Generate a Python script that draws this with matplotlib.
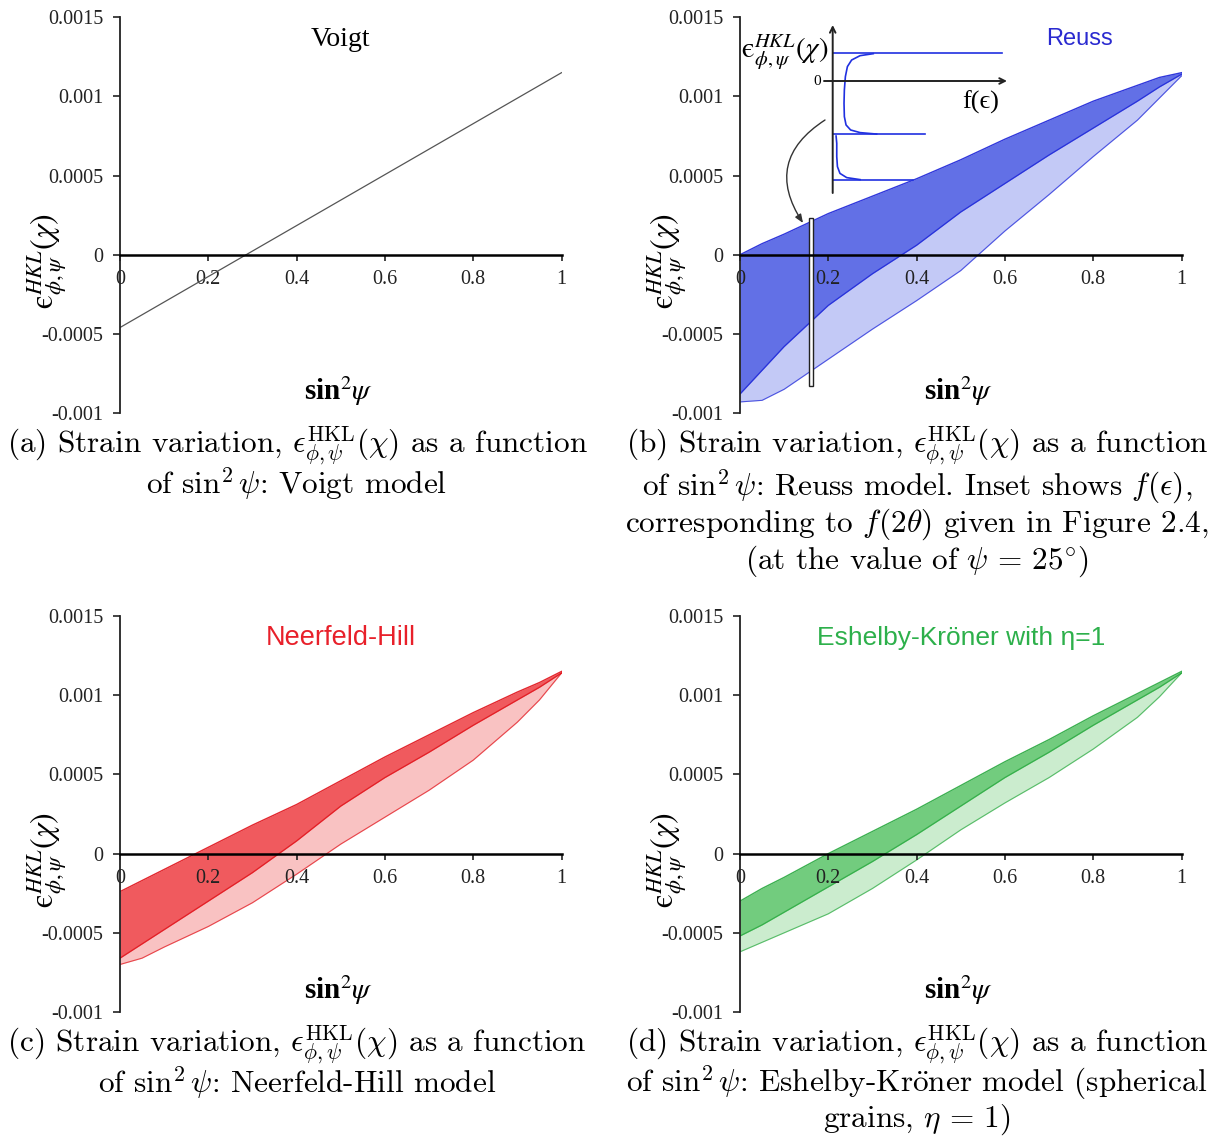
import matplotlib
matplotlib.use("Agg")
import matplotlib.pyplot as plt
from matplotlib.patches import Rectangle

# ---------------- data ----------------
x_ticks = [0, 0.2, 0.4, 0.6, 0.8, 1.0]
x_tick_labels = ["0", "0.2", "0.4", "0.6", "0.8", "1"]
y_ticks = [-0.001, -0.0005, 0, 0.0005, 0.001, 0.0015]
y_tick_labels = ["-0.001", "-0.0005", "0", "0.0005", "0.001", "0.0015"]

# Voigt: single straight line
voigt_x = [0.0, 1.0]
voigt_eps = [-0.00046, 0.00115]

# sin^2(psi) positions at which the point-cloud envelopes were read
cloud_x = [0.0, 0.05, 0.1, 0.2, 0.3, 0.4, 0.5, 0.6, 0.7, 0.8, 0.9, 0.95, 1.0]

reuss_upper = [0.0, 0.00007, 0.00013, 0.00026, 0.00037, 0.00048, 0.00060, 0.00073, 0.00085, 0.00097, 0.00107, 0.00112, 0.00115]
reuss_inner = [-0.00088, -0.00073, -0.00058, -0.00032, -0.00012, 0.00006, 0.00027, 0.00045, 0.00063, 0.00080, 0.00097, 0.00106, 0.00114]
reuss_lower = [-0.00093, -0.00092, -0.00085, -0.00066, -0.00047, -0.00029, -0.00010, 0.00015, 0.00038, 0.00062, 0.00085, 0.00099, 0.00113]

hill_upper = [-0.00024, -0.00017, -0.00010, 0.00004, 0.00018, 0.00031, 0.00046, 0.00061, 0.00075, 0.00089, 0.00102, 0.00108, 0.00115]
hill_inner = [-0.00066, -0.00057, -0.00048, -0.00030, -0.00012, 0.00008, 0.00030, 0.00048, 0.00064, 0.00081, 0.00097, 0.00105, 0.00114]
hill_lower = [-0.00070, -0.00066, -0.00059, -0.00046, -0.00031, -0.00013, 0.00006, 0.00023, 0.00040, 0.00059, 0.00083, 0.00097, 0.00114]

ek_upper = [-0.00030, -0.00022, -0.00015, 0.0, 0.00014, 0.00028, 0.00043, 0.00058, 0.00072, 0.00087, 0.00101, 0.00108, 0.00115]
ek_inner = [-0.00052, -0.00045, -0.00037, -0.00021, -0.00005, 0.00012, 0.00030, 0.00048, 0.00064, 0.00081, 0.00097, 0.00105, 0.00114]
ek_lower = [-0.00062, -0.00056, -0.00050, -0.00038, -0.00022, -0.00004, 0.00015, 0.00032, 0.00048, 0.00066, 0.00086, 0.00099, 0.00114]

# slice marked in the Reuss panel
slice_x0, slice_x1 = 0.156, 0.165
slice_lo, slice_hi = -0.00083, 0.00023

# inset: distribution f(eps) across the slice
inset_eps_top, inset_f_top = 0.00021, 1.0
inset_eps_mid, inset_f_mid = -0.000404, 0.546
inset_eps_bot, inset_f_bot = -0.00075, 0.477
inset_seg1_f = [0.24, 0.162, 0.112, 0.087, 0.075, 0.069, 0.067, 0.069, 0.079, 0.106, 0.162, 0.26]
inset_seg1_eps = [0.000207, 0.000192, 0.000159, 0.000109, 0.000033, -0.000068, -0.000169, -0.00027, -0.000333, -0.000371, -0.000391, -0.000402]
inset_seg2_f = [0.020, 0.024, 0.024, 0.028, 0.043, 0.083, 0.162]
inset_seg2_eps = [-0.000417, -0.000472, -0.000573, -0.000649, -0.000700, -0.000732, -0.000747]

# ---------------- figure ----------------
W, H = 1220, 1138
fig = plt.figure(figsize=(W / 100, H / 100), dpi=100)

SERIF = "Liberation Serif"
SANS = "Liberation Sans"


def axes_px(l, t, r, b):
    return fig.add_axes([l / W, 1 - b / H, (r - l) / W, (b - t) / H])


ylab = "$\\mathrm{\u03f5}^{HKL}_{\\phi,\\psi}(\\chi)$"


def style(ax):
    ax.set_xlim(0, 1)
    ax.set_ylim(-0.001, 0.0015)
    ax.patch.set_alpha(0)
    for s in ("top", "right"):
        ax.spines[s].set_visible(False)
    ax.spines["left"].set_linewidth(1.3)
    ax.spines["left"].set_color("#222222")
    ax.spines["bottom"].set_position(("data", 0))
    ax.spines["bottom"].set_linewidth(1.8)
    ax.spines["bottom"].set_zorder(5)
    ax.set_xticks(x_ticks)
    ax.set_xticklabels(x_tick_labels, fontfamily=SERIF, fontsize=14.5)
    ax.set_yticks(y_ticks)
    ax.set_yticklabels(y_tick_labels, fontfamily=SERIF, fontsize=14.5)
    ax.tick_params(axis="x", direction="out", length=4, width=1.2, pad=7, colors="#222222")
    ax.tick_params(axis="y", direction="out", length=5, width=1.2, pad=7, colors="#222222")
    ax.text(0.495, -0.00086, r"sin$^{2}\psi$", ha="center", va="center",
            fontsize=21, fontfamily=SERIF, fontweight="bold", math_fontfamily="stix")
    ax.text(-0.165, -0.00004, ylab, rotation=90, ha="center", va="center",
            fontsize=23, math_fontfamily="stix")


def cloud(ax, up, inner, low, dense, light, edge):
    ax.fill_between(cloud_x, low, up, color=light, lw=0, zorder=1)
    ax.fill_between(cloud_x, inner, up, color=dense, lw=0, zorder=1.1)
    ax.plot(cloud_x, up, color=edge, lw=1.0, alpha=0.9, zorder=1.2)
    ax.plot(cloud_x, low, color=edge, lw=0.8, alpha=0.7, zorder=1.2)
    ax.plot(cloud_x, inner, color=edge, lw=0.9, alpha=0.8, zorder=1.2)


# panel positions in pixels (left, top, right, bottom)
ax_a = axes_px(120, 17.3, 561.5, 413)
ax_b = axes_px(740, 17.3, 1181.5, 413)
ax_c = axes_px(120, 616, 561.5, 1012)
ax_d = axes_px(740, 616, 1181.5, 1012)
for ax in (ax_a, ax_b, ax_c, ax_d):
    style(ax)

# (a) Voigt
ax_a.plot(voigt_x, voigt_eps, color="#555555", lw=0.9, zorder=2)
ax_a.text(0.50, 0.00136, "Voigt", ha="center", va="center", fontsize=20, fontfamily=SERIF)

# (b) Reuss
cloud(ax_b, reuss_upper, reuss_inner, reuss_lower, "#6270e6", "#c3c9f6", "#1a22d8")
ax_b.text(0.77, 0.00136, "Reuss", ha="center", va="center", fontsize=17,
          fontfamily=SANS, color="#2a2ad0")
ax_b.add_patch(Rectangle((slice_x0, slice_lo), slice_x1 - slice_x0, slice_hi - slice_lo,
                         facecolor="white", edgecolor="#222222", lw=1.0, zorder=3))

# (c) Neerfeld-Hill
cloud(ax_c, hill_upper, hill_inner, hill_lower, "#f05a5e", "#f9c2c2", "#e01018")
ax_c.text(0.50, 0.00136, "Neerfeld-Hill", ha="center", va="center", fontsize=19.5,
          fontfamily=SANS, color="#e8202a")

# (d) Eshelby-Kroner
cloud(ax_d, ek_upper, ek_inner, ek_lower, "#72cc7e", "#cbecce", "#27a83e")
ax_d.text(0.50, 0.00136, "Eshelby-Kröner with η=1", ha="center", va="center", fontsize=19,
          fontfamily=SANS, color="#2db04b")

# ---------------- inset in (b) ----------------
f_zero_px, f_scale = 832.7, 169.0
e_zero_px, e_scale = 81.0, 132.0 / 0.001
il, ir, it, ib = 824, 1010, 25, 193
ax_in = axes_px(il, it, ir, ib)
ax_in.set_xlim((il - f_zero_px) / f_scale, (ir - f_zero_px) / f_scale)
ax_in.set_ylim((e_zero_px - ib) / e_scale, (e_zero_px - it) / e_scale)
ax_in.axis("off")
ax_in.patch.set_alpha(0)
ax_in.annotate("", xy=((1007 - f_zero_px) / f_scale, 0), xytext=((il - f_zero_px) / f_scale, 0),
               arrowprops=dict(arrowstyle="->", lw=1.4, color="#222222", shrinkA=0, shrinkB=0))
ax_in.annotate("", xy=(0, (e_zero_px - it) / e_scale), xytext=(0, (e_zero_px - ib) / e_scale),
               arrowprops=dict(arrowstyle="->", lw=1.4, color="#222222", shrinkA=0, shrinkB=0))
blue = "#2030e0"
ax_in.plot([0, inset_f_top], [inset_eps_top] * 2, color=blue, lw=1.2)
ax_in.plot(inset_seg1_f, inset_seg1_eps, color=blue, lw=1.2)
ax_in.plot([0, inset_f_mid], [inset_eps_mid] * 2, color=blue, lw=1.2)
ax_in.plot(inset_seg2_f, inset_seg2_eps, color=blue, lw=1.2)
ax_in.plot([0, inset_f_bot], [inset_eps_bot] * 2, color=blue, lw=1.2)

fig.text(785 / W, 1 - 52 / H, ylab, ha="center", va="center", fontsize=21, math_fontfamily="stix")
fig.text(981 / W, 1 - 102 / H, "f(\u03f5)", ha="center", va="center", fontsize=19,
         fontfamily=[SERIF, "DejaVu Serif"])
fig.text(816.7 / W, 1 - 81.7 / H, "0", ha="center", va="center", fontsize=11, fontfamily=SERIF)

# curved arrow from inset to slice
ax_b.annotate("", xy=(803, H - 223), xycoords="figure pixels",
              xytext=(825, H - 120), textcoords="figure pixels",
              arrowprops=dict(arrowstyle="-|>,head_length=0.5,head_width=0.2", lw=1.0,
                              color="#333333", connectionstyle="arc3,rad=0.5",
                              shrinkA=0, shrinkB=0))

# ---------------- captions ----------------
cap_kw = dict(ha="center", va="baseline", fontsize=22.5, fontfamily="cmr10", math_fontfamily="cm")
line1 = r" Strain variation, $\epsilon^{\mathrm{HKL}}_{\phi,\psi}(\chi)$ as a function"
captions = [
    (297, [453, 495], ["(a)" + line1, r"of $\sin^2\psi$: Voigt model"]),
    (917, [453, 495, 532, 569], ["(b)" + line1,
                                 r"of $\sin^2\psi$: Reuss model. Inset shows $f(\epsilon)$,",
                                 r"corresponding to $f(2\theta)$ given in Figure 2.4,",
                                 r"(at the value of $\psi\,=\,25^{\circ}$)"]),
    (297, [1052, 1094], ["(c)" + line1, r"of $\sin^2\psi$: Neerfeld-Hill model"]),
    (917, [1052, 1093, 1127], ["(d)" + line1,
                               r"of $\sin^2\psi$: Eshelby-Kr$\ddot{\mathrm{o}}$ner model (spherical",
                               r"grains, $\eta\,=\,1$)"]),
]
for cx, ys, lines in captions:
    for y, s in zip(ys, lines):
        fig.text(cx / W, 1 - y / H, s, **cap_kw)

fig.savefig("out.png", dpi=100)
